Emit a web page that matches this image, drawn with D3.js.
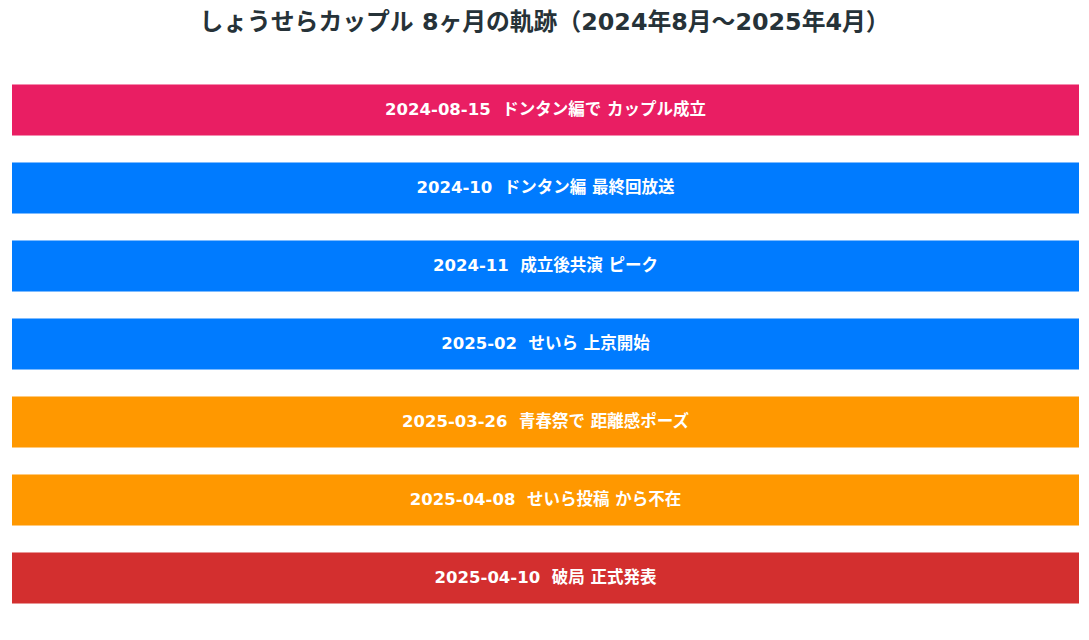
<!DOCTYPE html>
<html>
<head>
<meta charset="utf-8">
<script src="https://cdn.jsdelivr.net/npm/d3@7"></script>
<style>
  body { margin: 0; background: #fff; }
  text { font-family: "DejaVu Sans", "Noto Sans CJK JP", sans-serif; }
</style>
</head>
<body>
<div id="chart"></div>
<script>
// timeline events, top to bottom
const dates = ["2024-08-15", "2024-10", "2024-11", "2025-02", "2025-03-26", "2025-04-08", "2025-04-10"];
const events = ["ドンタン編で カップル成立", "ドンタン編 最終回放送", "成立後共演 ピーク", "せいら 上京開始", "青春祭で 距離感ポーズ", "せいら投稿 から不在", "破局 正式発表"];
const phases = ["start", "together", "together", "together", "warning", "warning", "end"];
const phaseColors = ["#E91E63", "#007BFF", "#FF9800", "#D32F2F"];

const width = 1089, height = 640;

const svg = d3.select("#chart").append("svg")
    .attr("width", width)
    .attr("height", height);

// title
svg.append("text")
    .attr("x", width / 2)
    .attr("y", 30)
    .attr("text-anchor", "middle")
    .attr("font-size", 23.8)
    .attr("font-weight", "bold")
    .attr("fill", "#263238")
    .text("しょうせらカップル 8ヶ月の軌跡（2024年8月～2025年4月）");

const color = d3.scaleOrdinal()
    .domain(["start", "together", "warning", "end"])
    .range(phaseColors);

// one row per event
const y = d3.scaleBand()
    .domain(dates)
    .range([71, 617])
    .paddingInner(0.346)
    .paddingOuter(0.173);

const x = d3.scaleLinear()
    .domain([0, 1])
    .range([12, 1079]);

const rows = svg.selectAll("g.row")
    .data(dates)
    .enter()
    .append("g")
    .attr("class", "row");

rows.append("rect")
    .attr("x", x(0))
    .attr("y", d => y(d))
    .attr("width", x(1) - x(0))
    .attr("height", y.bandwidth())
    .attr("fill", (d, i) => color(phases[i]));

rows.append("text")
    .attr("x", (x(0) + x(1)) / 2)
    .attr("y", d => y(d) + y.bandwidth() / 2)
    .attr("dy", "0.3em")
    .attr("text-anchor", "middle")
    .attr("font-size", 16.5)
    .attr("font-weight", "bold")
    .attr("fill", "#fff")
    .attr("xml:space", "preserve")
    .text((d, i) => d + "\u00a0\u00a0" + events[i]);
</script>
</body>
</html>
